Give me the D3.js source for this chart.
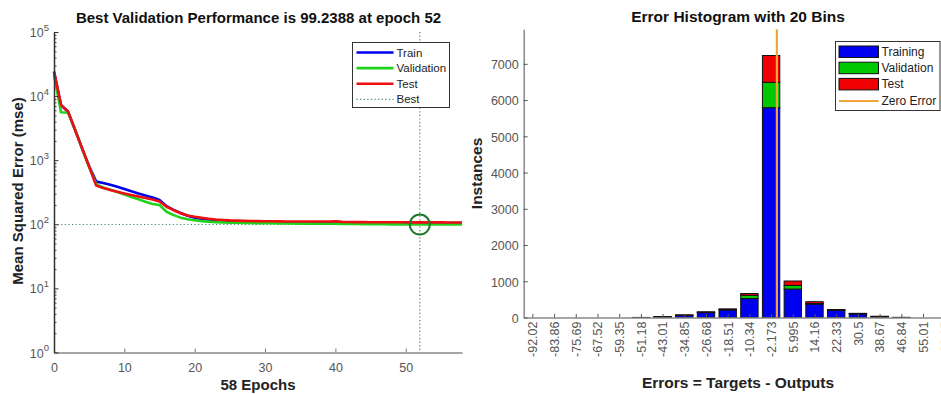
<!DOCTYPE html>
<html>
<head>
<meta charset="utf-8">
<script src="https://cdn.jsdelivr.net/npm/d3@7"></script>
<style>
  html, body { margin: 0; padding: 0; background: #fff; overflow: hidden; }
  svg { display: block; font-family: "Liberation Sans", Arial, Helvetica, sans-serif; }
</style>
</head>
<body>
<svg id="fig" width="941" height="394"></svg>
<script>
// ---- Training performance (mean squared error per epoch, epochs 0..58) ----
const trainPerf = [
  24000, 7200, 5700, 2950, 1520, 800, 463, 441, 415, 384,
  355, 328, 303, 282, 263, 239, 192, 168, 150, 136,
  127, 121, 117, 114, 112, 111, 110, 109.5, 109, 108.6,
  108.3, 108, 107.8, 107.6, 107.4, 107.2, 107, 106.9, 106.8, 106.7,
  106.6, 106.4, 106.2, 106, 105.9, 105.8, 105.7, 105.6, 105.5, 105.4,
  105.3, 105.2, 105.1, 105, 104.9, 104.8, 104.7, 104.6, 104.5
];
const validPerf = [
  21500, 5600, 5500, 3000, 1500, 790, 420, 375, 345, 318,
  292, 266, 245, 225, 208, 200, 157, 139, 127, 120,
  116, 112, 110, 108, 107, 106, 105.5, 105, 104.6, 104.2,
  103.9, 103.6, 103.3, 103, 102.8, 102.6, 102.4, 102.2, 102, 101.8,
  101.8, 101.4, 101.1, 100.9, 100.7, 100.5, 100.3, 100.1, 99.9, 99.7,
  99.5, 99.4, 99.2388, 99.3, 99.35, 99.4, 99.45, 99.5, 99.5
];
const testPerf = [
  24300, 7300, 5740, 2960, 1530, 790, 401, 369, 343, 322,
  303, 286, 272, 257, 244, 227, 188, 166, 149, 137,
  131, 126, 122, 119, 117, 115, 114, 113, 112.5, 112,
  111.6, 111.3, 111, 110.8, 110.6, 110.5, 110.4, 110.3, 110.4, 110.8,
  111.5, 109, 108.4, 108.2, 108, 107.9, 107.8, 107.7, 107.6, 107.5,
  107.4, 107.3, 107.2, 107.1, 107, 107, 106.9, 106.8, 106.8
];
const bestEpoch = 52;
const bestPerf = 99.2388;
const epochTicks = [0, 10, 20, 30, 40, 50];
const mseTicks = [1, 10, 100, 1000, 10000, 100000];

// ---- Error histogram (20 bins) ----
const binLabels = ["-92.02", "-83.86", "-75.69", "-67.52", "-59.35", "-51.18", "-43.01", "-34.85",
  "-26.68", "-18.51", "-10.34", "-2.173", "5.995", "14.16", "22.33", "30.5", "38.67", "46.84", "55.01", "63.17"];
const trainCounts = [0, 0, 0, 0, 0, 2, 16, 55, 135, 208, 522, 5790, 785, 372, 196, 100, 26, 2, 0, 0];
const validCounts = [0, 0, 0, 0, 0, 0, 3, 9, 10, 14, 92, 700, 100, 12, 10, 6, 3, 0, 0, 0];
const testCounts  = [0, 0, 0, 0, 0, 0, 4, 9, 12, 16, 48, 740, 122, 52, 14, 9, 4, 1, 0, 0];
const countTicks = [0, 1000, 2000, 3000, 4000, 5000, 6000, 7000];

const svg = d3.select("#fig");
const tickColor = "#555";
const fontTick = "12.5px";

// =================== Performance plot ===================
const px = d3.scaleLinear().domain([0, 58]).range([54, 462]);
const py = d3.scaleLog().domain([1, 1e5]).range([352.5, 32]);
const perf = svg.append("g");

// best-epoch guide lines
perf.append("line")
  .attr("x1", px(0)).attr("x2", px(58))
  .attr("y1", py(bestPerf)).attr("y2", py(bestPerf))
  .attr("stroke", "#3d8a5a").attr("stroke-width", 1.2).attr("stroke-dasharray", "1.2,2.4");
perf.append("line")
  .attr("x1", px(bestEpoch)).attr("x2", px(bestEpoch))
  .attr("y1", py(1e5)).attr("y2", py(1))
  .attr("stroke", "#3d8a5a").attr("stroke-width", 1.2).attr("stroke-dasharray", "1.2,2.4");

const perfLine = d3.line().x((d, i) => px(i)).y(d => py(d));
const perfSeries = [
  { name: "Train", values: trainPerf, color: "#0000ee" },
  { name: "Validation", values: validPerf, color: "#1ed21e" },
  { name: "Test", values: testPerf, color: "#ee1010" }
];
perfSeries.forEach(s => {
  perf.append("path").datum(s.values)
    .attr("d", perfLine)
    .attr("fill", "none").attr("stroke", s.color)
    .attr("stroke-width", 2.6).attr("stroke-linejoin", "round");
});

// best point marker
perf.append("circle")
  .attr("cx", px(bestEpoch)).attr("cy", py(bestPerf)).attr("r", 10)
  .attr("fill", "none").attr("stroke", "#1e7a2a").attr("stroke-width", 2);

// x axis
const pxAxis = perf.append("g").attr("transform", `translate(0,${py(1)})`)
  .call(d3.axisBottom(px).tickValues(epochTicks).tickSize(-4).tickSizeOuter(0).tickPadding(11));
pxAxis.select(".domain").attr("stroke", "#888").attr("stroke-width", 1.5);
pxAxis.selectAll(".tick line").attr("stroke", "#777");
pxAxis.selectAll(".tick text").attr("fill", tickColor).style("font-size", fontTick).style("font-family", "inherit");

// y axis: minor ticks
const minorVals = [];
for (let e = 0; e < 5; e++) for (let m = 2; m <= 9; m++) minorVals.push(m * Math.pow(10, e));
const pyMinor = perf.append("g").attr("transform", `translate(${px(0)},0)`)
  .call(d3.axisLeft(py).tickValues(minorVals).tickSize(-2.5).tickSizeOuter(0).tickFormat(""));
pyMinor.select(".domain").remove();
pyMinor.selectAll(".tick line").attr("stroke", "#444");

// y axis: major ticks with power-of-ten labels
const pyAxis = perf.append("g").attr("transform", `translate(${px(0)},0)`)
  .call(d3.axisLeft(py).tickValues(mseTicks).tickSize(-4.5).tickSizeOuter(0).tickFormat(""));
pyAxis.select(".domain").attr("stroke", "#333").attr("stroke-width", 1.5);
pyAxis.selectAll(".tick line").attr("stroke", "#333");
pyAxis.selectAll(".tick text").each(function (d) {
  const t = d3.select(this)
    .attr("x", -5).attr("y", 4.5).attr("dy", null)
    .attr("text-anchor", "end").attr("fill", tickColor)
    .style("font-size", fontTick).style("font-family", "inherit");
  t.append("tspan").text("10");
  t.append("tspan").attr("dy", -6.5).style("font-size", "9.5px").text(Math.round(Math.log10(d)));
});

// titles and axis labels
perf.append("text").attr("x", 258.5).attr("y", 23).attr("text-anchor", "middle")
  .style("font-size", "15px").style("font-weight", "bold").attr("fill", "#111")
  .text(`Best Validation Performance is ${bestPerf} at epoch ${bestEpoch}`);
perf.append("text").attr("x", 258).attr("y", 390).attr("text-anchor", "middle")
  .style("font-size", "15px").style("font-weight", "bold").attr("fill", "#222")
  .text(`${trainPerf.length - 1} Epochs`);
perf.append("text").attr("transform", "translate(23,191) rotate(-90)").attr("text-anchor", "middle")
  .style("font-size", "15px").style("font-weight", "bold").attr("fill", "#222")
  .text("Mean Squared Error  (mse)");

// legend
const pl = perf.append("g").attr("transform", "translate(352.5,42.5)");
pl.append("rect").attr("width", 97).attr("height", 65)
  .attr("fill", "#fff").attr("stroke", "#333").attr("stroke-width", 1);
const perfLegend = perfSeries.map(s => ({ name: s.name, color: s.color, dash: null, w: 2.6 }))
  .concat([{ name: "Best", color: "#3d8a5a", dash: "1.2,2.4", w: 1.2 }]);
perfLegend.forEach((d, i) => {
  const yy = 10 + i * 15.6;
  pl.append("line").attr("x1", 4).attr("x2", 41).attr("y1", yy).attr("y2", yy)
    .attr("stroke", d.color).attr("stroke-width", d.w).attr("stroke-dasharray", d.dash);
  pl.append("text").attr("x", 44).attr("y", yy + 4).style("font-size", "11.5px")
    .attr("fill", "#222").text(d.name);
});

// =================== Error histogram ===================
const centers = binLabels.map(Number);
const binW = (centers[centers.length - 1] - centers[0]) / (centers.length - 1);
const totals = centers.map((c, i) => trainCounts[i] + validCounts[i] + testCounts[i]);
const hx = d3.scaleLinear()
  .domain([centers[0] - 0.4 * binW, centers[centers.length - 1] + 0.4 * binW])
  .range([523.7, 953.4]);
const hy = d3.scaleLinear().domain([0, 1.1 * d3.max(totals)]).range([317.5, 29.3]);
const hist = svg.append("g");

const stackData = centers.map((c, i) => ({ c, Training: trainCounts[i], Validation: validCounts[i], Test: testCounts[i] }));
const histKeys = ["Training", "Validation", "Test"];
const histColors = { Training: "#0000f0", Validation: "#00c800", Test: "#f00000" };
const stacked = d3.stack().keys(histKeys)(stackData);
stacked.forEach(layer => {
  hist.append("g").selectAll("rect")
    .data(layer.filter(d => d[1] - d[0] > 0))
    .join("rect")
    .attr("x", d => hx(d.data.c - 0.4 * binW))
    .attr("width", d => hx(d.data.c + 0.4 * binW) - hx(d.data.c - 0.4 * binW))
    .attr("y", d => hy(d[1]))
    .attr("height", d => hy(d[0]) - hy(d[1]))
    .attr("fill", histColors[layer.key])
    .attr("stroke", "#111").attr("stroke-width", 1);
});

// zero error line
hist.append("line")
  .attr("x1", hx(0)).attr("x2", hx(0)).attr("y1", hy.range()[1]).attr("y2", hy(0))
  .attr("stroke", "#f2a43a").attr("stroke-width", 2.2);

// axes
const hxAxis = hist.append("g").attr("transform", `translate(0,${hy(0)})`)
  .call(d3.axisBottom(hx).tickValues(centers).tickSize(-3.5).tickSizeOuter(0)
    .tickFormat((d, i) => binLabels[i]));
hxAxis.select(".domain").attr("stroke", "#888").attr("stroke-width", 1.5);
hxAxis.selectAll(".tick line").attr("stroke", "#555");
hxAxis.selectAll(".tick text")
  .attr("transform", "rotate(-90)").attr("x", -4).attr("y", 0).attr("dy", "0.35em")
  .attr("text-anchor", "end").attr("fill", tickColor)
  .style("font-size", fontTick).style("font-family", "inherit");

const hyAxis = hist.append("g").attr("transform", `translate(${hx.range()[0]},0)`)
  .call(d3.axisLeft(hy).tickValues(countTicks).tickSize(-4).tickSizeOuter(0).tickPadding(5)
    .tickFormat(d3.format("d")));
hyAxis.select(".domain").attr("stroke", "#888").attr("stroke-width", 1.5);
hyAxis.selectAll(".tick line").attr("stroke", "#555");
hyAxis.selectAll(".tick text").attr("fill", tickColor).attr("dy", "0.38em")
  .style("font-size", fontTick).style("font-family", "inherit");

// titles and axis labels
hist.append("text").attr("x", 738).attr("y", 22).attr("text-anchor", "middle")
  .style("font-size", "15.5px").style("font-weight", "bold").attr("fill", "#111")
  .text(`Error Histogram with ${binLabels.length} Bins`);
hist.append("text").attr("x", 738).attr("y", 388).attr("text-anchor", "middle")
  .style("font-size", "15.5px").style("font-weight", "bold").attr("fill", "#222")
  .text("Errors = Targets - Outputs");
hist.append("text").attr("transform", "translate(482,173.4) rotate(-90)").attr("text-anchor", "middle")
  .style("font-size", "15.5px").style("font-weight", "bold").attr("fill", "#222")
  .text("Instances");

// legend
const hl = hist.append("g").attr("transform", "translate(835.5,41.5)");
hl.append("rect").attr("width", 104.5).attr("height", 69)
  .attr("fill", "#fff").attr("stroke", "#333").attr("stroke-width", 1);
histKeys.forEach((k, i) => {
  const yy = 4.5 + i * 16.2;
  hl.append("rect").attr("x", 3.5).attr("y", yy).attr("width", 39.5).attr("height", 11.5)
    .attr("fill", histColors[k]).attr("stroke", "#111").attr("stroke-width", 1);
  hl.append("text").attr("x", 46).attr("y", yy + 10).style("font-size", "12px")
    .attr("fill", "#222").text(k);
});
hl.append("line").attr("x1", 3.5).attr("x2", 43).attr("y1", 59.5).attr("y2", 59.5)
  .attr("stroke", "#f2a43a").attr("stroke-width", 2.2);
hl.append("text").attr("x", 46).attr("y", 63.8).style("font-size", "12px")
  .attr("fill", "#222").text("Zero Error");
</script>
</body>
</html>
